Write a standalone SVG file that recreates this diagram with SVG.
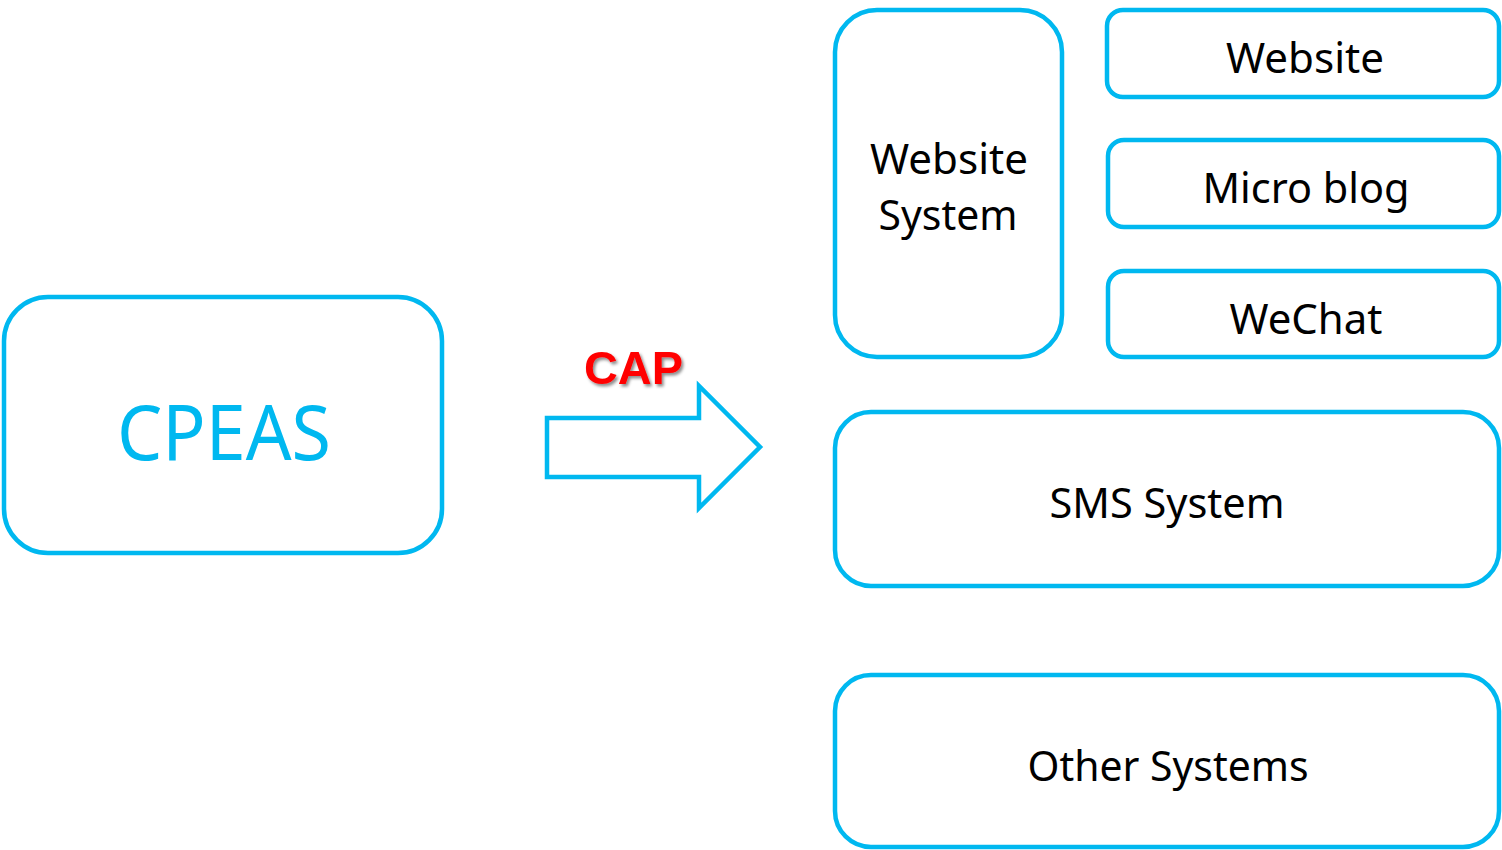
<svg xmlns="http://www.w3.org/2000/svg" width="1502" height="850" viewBox="0 0 1502 850">
<defs>
<style>
.box{fill:#fff;stroke:#00B8F0;stroke-width:4.5}
.lbl{font-family:"Noto Sans","Open Sans",sans-serif;font-size:42px;fill:#000;text-anchor:middle}
.cap{font-family:"Liberation Sans",Arial,sans-serif;font-weight:bold;font-size:46px;fill:#FF0000}
</style>
<filter id="sh" x="-20%" y="-20%" width="140%" height="140%">
<feDropShadow dx="2" dy="2.5" stdDeviation="1.5" flood-color="#000" flood-opacity="0.45"/>
</filter>
</defs>
<rect width="1502" height="850" fill="#fff"/>
<g id="cpeas">
<rect class="box" x="4" y="297" width="438" height="256" rx="44"/>
<text x="224" y="460" font-family="'Noto Sans','Open Sans',sans-serif" font-size="76" fill="#00B8F0" text-anchor="middle" textLength="214" lengthAdjust="spacingAndGlyphs">CPEAS</text>
</g>
<g id="connectors">
<path class="box" d="M547,418 H699 V386 L760,447 L699,508 V477 H547 Z" stroke-linejoin="miter"/>
<text class="cap" x="584" y="384" filter="url(#sh)" textLength="99" lengthAdjust="spacingAndGlyphs">CAP</text>
</g>
<g id="website-system">
<rect class="box" x="835" y="10" width="227" height="347" rx="42"/>
<text class="lbl" x="949" y="174" textLength="158" lengthAdjust="spacingAndGlyphs">Website</text>
<text class="lbl" x="948" y="230" textLength="139" lengthAdjust="spacingAndGlyphs">System</text>
</g>
<g id="website">
<rect class="box" x="1107" y="10" width="392" height="87" rx="16"/>
<text class="lbl" x="1305" y="73" textLength="158" lengthAdjust="spacingAndGlyphs">Website</text>
</g>
<g id="micro-blog">
<rect class="box" x="1108" y="140" width="391" height="87" rx="16"/>
<text class="lbl" x="1306" y="203" textLength="207" lengthAdjust="spacingAndGlyphs">Micro blog</text>
</g>
<g id="wechat">
<rect class="box" x="1108" y="271" width="391" height="86" rx="16"/>
<text class="lbl" x="1306" y="334" textLength="153" lengthAdjust="spacingAndGlyphs">WeChat</text>
</g>
<g id="sms-system">
<rect class="box" x="835" y="412" width="664" height="174" rx="36"/>
<text class="lbl" x="1167" y="518" textLength="235" lengthAdjust="spacingAndGlyphs">SMS System</text>
</g>
<g id="other-systems">
<rect class="box" x="835" y="675" width="664" height="172" rx="36"/>
<text class="lbl" x="1168" y="781" textLength="281" lengthAdjust="spacingAndGlyphs">Other Systems</text>
</g>
</svg>
